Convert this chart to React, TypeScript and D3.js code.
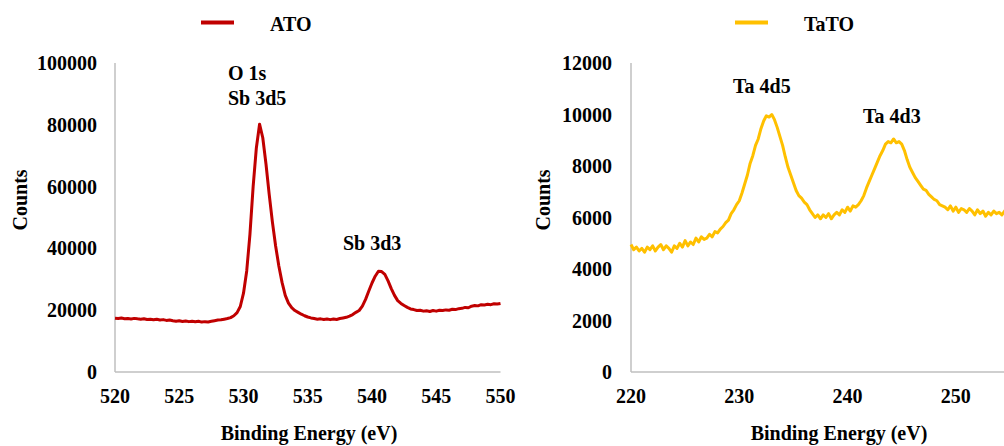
import React from "react";
import * as d3 from "d3";

// ---- Data ----
const ATO_START = 520;
const ATO_STEP = 0.25;
const ATO_COUNTS = [
  17400, 17300, 17450, 17250, 17300, 17150, 17350, 17200, 17100, 17250,
  17000, 17100, 16900, 17050, 16850, 16950, 16700, 16850, 16600, 16400,
  16600, 16350, 16500, 16300, 16450, 16250, 16400, 16150, 16300, 16200,
  16400, 16600, 16800, 16900, 17100, 17300, 17600, 18200, 19200, 21200,
  25500, 32700, 44500, 60000, 72500, 80200, 75800, 67300, 57500, 48500,
  40800, 34300, 29000, 24800, 22300, 20800, 19900, 19300, 18700, 18200,
  17800, 17500, 17300, 17100, 17200, 17000, 17150, 16950, 17150, 17000,
  17300, 17500, 17700, 18100, 18600, 19300, 19900, 21300, 23500, 26200,
  28800, 31000, 32600, 32500, 31600, 29500, 27000, 24800, 23100, 22200,
  21500, 20900, 20400, 20200, 19900, 20000, 19700, 19800, 19600, 19900,
  19700, 20000, 19900, 20100, 20000, 20300, 20200, 20500, 20600, 20900,
  20800, 21300, 21500, 21400, 21800, 21700, 21900, 21800, 22100, 22000,
  22200,
];

const TATO_START = 220;
const TATO_STEP = 0.25;
const TATO_COUNTS = [
  4950, 4750, 4850, 4700, 4800, 4650, 4850, 4750, 4900, 4700,
  4850, 4950, 4750, 4900, 4800, 4650, 4900, 4800, 5000, 4850,
  5100, 4900, 5050, 4950, 5200, 5050, 5250, 5150, 5200, 5350,
  5250, 5450, 5400, 5550, 5650, 5800, 5900, 6150, 6300, 6500,
  6650, 6950, 7300, 7650, 8100, 8400, 8800, 9050, 9450, 9750,
  9950, 9900, 10000, 9800, 9500, 9150, 8800, 8350, 7950, 7650,
  7350, 7050, 6850, 6750, 6600, 6500, 6300, 6150, 6000, 6100,
  5950, 6100, 6000, 6150, 5950, 6100, 6200, 6100, 6300, 6200,
  6400, 6250, 6450, 6400, 6500, 6650, 6850, 7150, 7400, 7650,
  7900, 8150, 8400, 8600, 8850, 8950, 8900, 9050, 8900, 8950,
  8850, 8600, 8250, 7950, 7750, 7550, 7400, 7250, 7100, 7050,
  6900, 6800, 6700, 6650, 6500, 6450, 6400, 6300, 6450, 6250,
  6400, 6200, 6350, 6300, 6200, 6350, 6250, 6100, 6300, 6150,
  6250, 6050, 6200, 6100, 6250, 6150, 6200, 6100, 6250, 6150,
  6200,
];

const ATO_X_TICKS = [520, 525, 530, 535, 540, 545, 550];
const ATO_Y_TICKS = [0, 20000, 40000, 60000, 80000, 100000];
const TATO_X_TICKS = [220, 230, 240, 250];
const TATO_Y_TICKS = [0, 2000, 4000, 6000, 8000, 10000, 12000];

const ATO_LABELS = [
  { text: "O 1s", x: 228, y: 80 },
  { text: "Sb 3d5", x: 228, y: 105 },
  { text: "Sb 3d3", x: 343, y: 250 },
];
const TATO_LABELS = [
  { text: "Ta 4d5", x: 733, y: 93 },
  { text: "Ta 4d3", x: 863, y: 123 },
];

const FONT = "'Liberation Serif', 'Times New Roman', serif";

type Panel = {
  counts: number[];
  start: number;
  step: number;
  xDomain: [number, number];
  xRange: [number, number];
  yMax: number;
  xTicks: number[];
  yTicks: number[];
  color: string;
  name: string;
  legendX: number;
  yLabelRight: number;
  countsX: number;
  titleX: number;
  labels: { text: string; x: number; y: number }[];
};

const panels: Panel[] = [
  {
    counts: ATO_COUNTS,
    start: ATO_START,
    step: ATO_STEP,
    xDomain: [520, 550],
    xRange: [115, 500.5],
    yMax: 100000,
    xTicks: ATO_X_TICKS,
    yTicks: ATO_Y_TICKS,
    color: "#c00000",
    name: "ATO",
    legendX: 201,
    yLabelRight: 97,
    countsX: 20,
    titleX: 309,
    labels: ATO_LABELS,
  },
  {
    counts: TATO_COUNTS,
    start: TATO_START,
    step: TATO_STEP,
    xDomain: [220, 255],
    xRange: [631, 1010],
    yMax: 12000,
    xTicks: TATO_X_TICKS,
    yTicks: TATO_Y_TICKS,
    color: "#ffc000",
    name: "TaTO",
    legendX: 735,
    yLabelRight: 612,
    countsX: 543,
    titleX: 839,
    labels: TATO_LABELS,
  },
];

const TOP = 63;
const BOTTOM = 372;

function PanelView({ p }: { p: Panel }) {
  const x = d3.scaleLinear().domain(p.xDomain).range(p.xRange);
  const y = d3.scaleLinear().domain([0, p.yMax]).range([BOTTOM, TOP]);
  const pts: [number, number][] = p.counts.map((c, i) => [p.start + i * p.step, c]);
  const line = d3
    .line<[number, number]>()
    .x((d) => x(d[0]))
    .y((d) => y(d[1]));
  const x0 = p.xRange[0];
  return (
    <g>
      {/* axes */}
      <line x1={x0} x2={x0} y1={TOP} y2={BOTTOM} stroke="#bfbfbf" strokeWidth={1.5} />
      <line x1={x0} x2={p.xRange[1]} y1={BOTTOM} y2={BOTTOM} stroke="#bfbfbf" strokeWidth={1.5} />
      {p.yTicks.map((t) => (
        <text
          key={"y" + t}
          x={p.yLabelRight}
          y={y(t)}
          dy="0.35em"
          textAnchor="end"
          fontFamily={FONT}
          fontWeight="bold"
          fontSize={20}
        >
          {t}
        </text>
      ))}
      {p.xTicks.map((t) => (
        <text
          key={"x" + t}
          x={x(t)}
          y={403}
          textAnchor="middle"
          fontFamily={FONT}
          fontWeight="bold"
          fontSize={20}
        >
          {t}
        </text>
      ))}
      <path d={line(pts) ?? ""} fill="none" stroke={p.color} strokeWidth={3} strokeLinejoin="round" />
      {p.labels.map((l) => (
        <text
          key={l.text}
          x={l.x}
          y={l.y}
          fontFamily={FONT}
          fontWeight="bold"
          fontSize={20}
          style={{ whiteSpace: "pre" }}
        >
          {l.text}
        </text>
      ))}
      <text
        transform={`translate(${p.countsX},${200}) rotate(-90)`}
        textAnchor="middle"
        dy="0.35em"
        fontFamily={FONT}
        fontWeight="bold"
        fontSize={20}
      >
        Counts
      </text>
      <text x={p.titleX} y={440} textAnchor="middle" fontFamily={FONT} fontWeight="bold" fontSize={20}>
        Binding Energy (eV)
      </text>
      {/* legend */}
      <line x1={p.legendX} x2={p.legendX + 33} y1={22.5} y2={22.5} stroke={p.color} strokeWidth={4} />
      <text x={p.legendX + 69} y={31} fontFamily={FONT} fontWeight="bold" fontSize={20}>
        {p.name}
      </text>
    </g>
  );
}

export default function App() {
  return (
    <svg
      width={1004}
      height={446}
      style={{ position: "absolute", left: 0, top: 0, background: "#fff" }}
    >
      <rect width={1004} height={446} fill="#fff" />
      {panels.map((p) => (
        <PanelView key={p.name} p={p} />
      ))}
    </svg>
  );
}
